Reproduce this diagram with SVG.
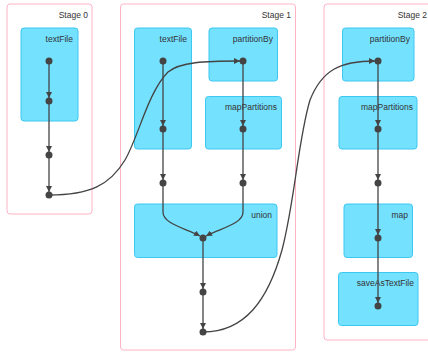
<svg xmlns="http://www.w3.org/2000/svg" width="428" height="352" viewBox="0 0 428 352">
<style>
.stage{fill:#ffffff;stroke:#ffb3c6;stroke-width:1}
.op{fill:#74e1ff;stroke:#3cc8f2;stroke-width:1}
.lbl{font-family:"Liberation Sans",Arial,sans-serif;font-size:8.5px;fill:#333;text-anchor:end}
.dot{fill:#444}
.edge{fill:none;stroke:#444;stroke-width:1.3}
</style>
<defs>
<marker id="arr" viewBox="0 0 10 10" refX="10" refY="5" markerWidth="6" markerHeight="6" markerUnits="userSpaceOnUse" orient="auto">
<path d="M0,0 L10,5 L0,10 Z" fill="#444"/>
</marker>
</defs>
<rect width="428" height="352" fill="#ffffff"/>
<g id="stage0">
<rect class="stage" x="7" y="4" width="85" height="210" rx="3"/>
<text class="lbl" x="88" y="18">Stage 0</text>
</g>
<g id="stage1">
<rect class="stage" x="120.5" y="4" width="175" height="346" rx="3"/>
<text class="lbl" x="291" y="18">Stage 1</text>
</g>
<g id="stage2">
<rect class="stage" x="324" y="4" width="110" height="336" rx="3"/>
<text class="lbl" x="427" y="18">Stage 2</text>
</g>
<g id="s0-textFile">
<rect class="op" x="21" y="28" width="57" height="93" rx="3"/>
<text class="lbl" x="73" y="42">textFile</text>
</g>
<g id="s1-textFile">
<rect class="op" x="134.5" y="28" width="57" height="121" rx="3"/>
<text class="lbl" x="187" y="42">textFile</text>
</g>
<g id="s1-partitionBy">
<rect class="op" x="209" y="28" width="68.5" height="53" rx="3"/>
<text class="lbl" x="273" y="42">partitionBy</text>
</g>
<g id="s1-mapPartitions">
<rect class="op" x="205.5" y="96.5" width="76" height="52.5" rx="3"/>
<text class="lbl" x="277" y="110">mapPartitions</text>
</g>
<g id="s1-union">
<rect class="op" x="134.5" y="204" width="142.5" height="53.5" rx="3"/>
<text class="lbl" x="272" y="218">union</text>
</g>
<g id="s2-partitionBy">
<rect class="op" x="342.5" y="28" width="71.5" height="53" rx="3"/>
<text class="lbl" x="410" y="42">partitionBy</text>
</g>
<g id="s2-mapPartitions">
<rect class="op" x="339" y="96.5" width="78" height="52.5" rx="3"/>
<text class="lbl" x="413" y="110">mapPartitions</text>
</g>
<g id="s2-map">
<rect class="op" x="344" y="204" width="68.5" height="53.5" rx="3"/>
<text class="lbl" x="408" y="218">map</text>
</g>
<g id="s2-saveAsTextFile">
<rect class="op" x="338.5" y="272.5" width="79.5" height="53" rx="3"/>
<text class="lbl" x="414" y="286">saveAsTextFile</text>
</g>
<g id="connectors">
<path class="edge" marker-end="url(#arr)" d="M49,61 L49,98"/>
<path class="edge" marker-end="url(#arr)" d="M49,101 L49,152"/>
<path class="edge" marker-end="url(#arr)" d="M49,155 L49,192"/>
<path class="edge" marker-end="url(#arr)" d="M49,195 C90,195 110,185 125,160 C138,138 148,92 168,72 C180,62 205,61 240,61"/>
<path class="edge" marker-end="url(#arr)" d="M163,61 L163,126"/>
<path class="edge" marker-end="url(#arr)" d="M163,129 L163,180"/>
<path class="edge" marker-end="url(#arr)" d="M243,61 L243,126"/>
<path class="edge" marker-end="url(#arr)" d="M243,129 L243,180"/>
<path class="edge" marker-end="url(#arr)" d="M163,183 L163,212 C163,224 185,228 200,236"/>
<path class="edge" marker-end="url(#arr)" d="M243,183 L243,212 C243,224 221,228 206,236"/>
<path class="edge" marker-end="url(#arr)" d="M203,238 L203,289"/>
<path class="edge" marker-end="url(#arr)" d="M203,292 L203,329"/>
<path class="edge" marker-end="url(#arr)" d="M203,332 C245,332 268,300 282,250 C295,200 298,140 310,100 C322,70 340,61 375,61"/>
<path class="edge" marker-end="url(#arr)" d="M378,61 L378,126"/>
<path class="edge" marker-end="url(#arr)" d="M378,129 L378,180"/>
<path class="edge" marker-end="url(#arr)" d="M378,183 L378,235"/>
<path class="edge" marker-end="url(#arr)" d="M378,238 L378,303"/>
<g id="dots">
<circle class="dot" cx="49" cy="61" r="3.5"/>
<circle class="dot" cx="49" cy="101" r="3.5"/>
<circle class="dot" cx="49" cy="155" r="3.5"/>
<circle class="dot" cx="49" cy="195" r="3.5"/>
<circle class="dot" cx="163" cy="61" r="3.5"/>
<circle class="dot" cx="163" cy="129" r="3.5"/>
<circle class="dot" cx="163" cy="183" r="3.5"/>
<circle class="dot" cx="243" cy="61" r="3.5"/>
<circle class="dot" cx="243" cy="129" r="3.5"/>
<circle class="dot" cx="243" cy="183" r="3.5"/>
<circle class="dot" cx="203" cy="238" r="3.5"/>
<circle class="dot" cx="203" cy="292" r="3.5"/>
<circle class="dot" cx="203" cy="332" r="3.5"/>
<circle class="dot" cx="378" cy="61" r="3.5"/>
<circle class="dot" cx="378" cy="129" r="3.5"/>
<circle class="dot" cx="378" cy="183" r="3.5"/>
<circle class="dot" cx="378" cy="238" r="3.5"/>
<circle class="dot" cx="378" cy="306" r="3.5"/>
</g>
</g>
</svg>
